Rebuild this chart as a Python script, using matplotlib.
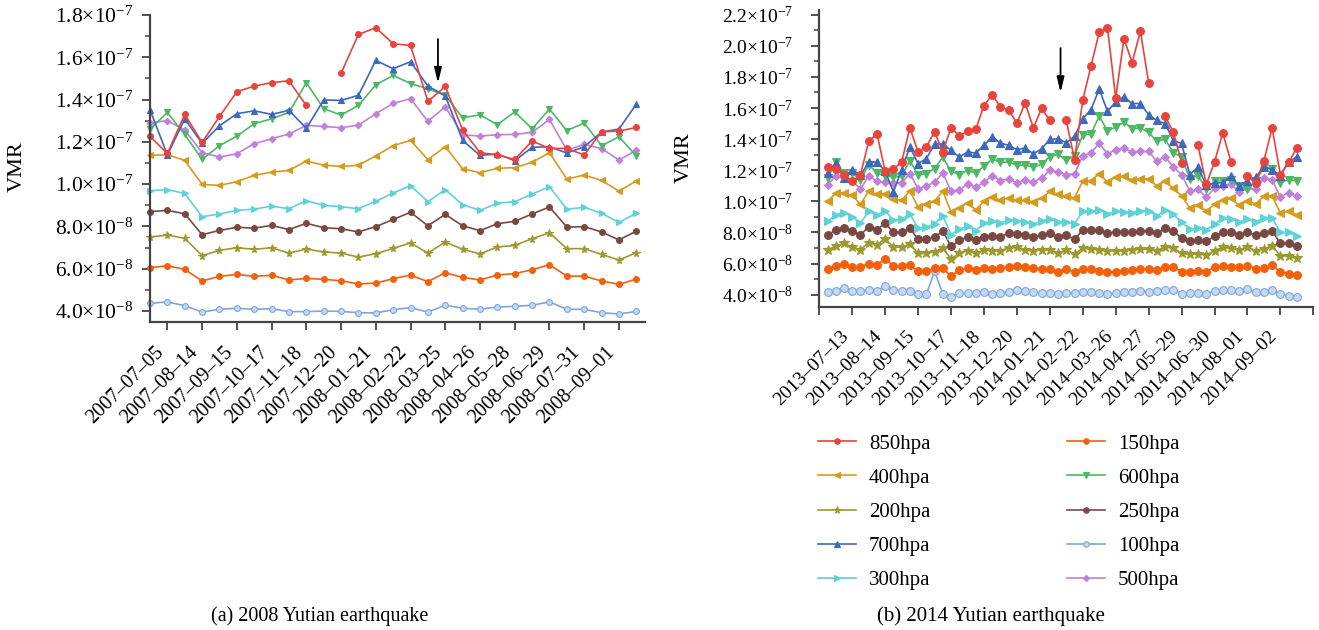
import numpy as np
import matplotlib.pyplot as plt
from matplotlib.ticker import FuncFormatter, MultipleLocator

plt.rcParams['font.family'] = ['Liberation Serif', 'DejaVu Serif']
plt.rcParams['mathtext.fontset'] = 'custom'
plt.rcParams['mathtext.rm'] = 'Liberation Serif'
plt.rcParams['mathtext.it'] = 'Liberation Serif:italic'

nan = np.nan

# ---- (a) 2008 Yutian earthquake, VMR in units of 1e-8 ----
dates_a = ['2007–07–05', '2007–08–14', '2007–09–15', '2007–10–17', '2007–11–18',
           '2007–12–20', '2008–01–21', '2008–02–22', '2008–03–25', '2008–04–26',
           '2008–05–28', '2008–06–29', '2008–07–31', '2008–09–01']

a_850 = [12.26, 11.45, 13.30, 11.97, 13.20, 14.37, 14.64, 14.80, 14.89, 13.72, nan, 15.24, 17.08, 17.40, 16.64,
         16.56, 13.91, 14.62, 12.56, 11.49, 11.38, 11.17, 12.04, 11.69, 11.69, 11.38, 12.48, 12.51, 12.68]
a_700 = [13.52, 11.38, 13.08, 11.93, 12.76, 13.33, 13.47, 13.30, 13.49, 12.64, 13.98, 13.96, 14.20, 15.85, 15.46,
         15.79, 14.64, 14.18, 12.07, 11.36, 11.43, 11.11, 11.74, 11.77, 11.47, 11.77, 12.46, 12.61, 13.78]
a_600 = [12.59, 13.39, 12.35, 11.17, 11.82, 12.27, 12.86, 13.09, 13.39, 14.80, 13.57, 13.27, 13.72, 14.70, 15.14,
         14.76, 14.51, 14.20, 13.14, 13.28, 12.81, 13.42, 12.62, 13.55, 12.53, 12.89, 11.82, 12.24, 11.34]
a_500 = [12.90, 13.00, 12.56, 11.49, 11.28, 11.44, 11.91, 12.15, 12.37, 12.78, 12.73, 12.67, 12.79, 13.33, 13.82,
         14.04, 12.97, 13.66, 12.34, 12.27, 12.34, 12.35, 12.45, 13.06, 11.61, 11.88, 11.68, 11.14, 11.60]
a_400 = [11.36, 11.39, 11.12, 9.99, 9.94, 10.12, 10.41, 10.57, 10.65, 11.09, 10.90, 10.84, 10.89, 11.34, 11.82,
         12.07, 11.16, 11.77, 10.73, 10.54, 10.75, 10.78, 11.03, 11.49, 10.24, 10.43, 10.18, 9.67, 10.15]
a_300 = [9.69, 9.74, 9.56, 8.46, 8.59, 8.76, 8.82, 8.96, 8.84, 9.22, 9.00, 8.93, 8.84, 9.19, 9.58,
         9.93, 9.17, 9.74, 9.03, 8.76, 9.10, 9.17, 9.53, 9.88, 8.82, 8.90, 8.62, 8.19, 8.63]
a_250 = [8.70, 8.76, 8.60, 7.61, 7.81, 7.96, 7.92, 8.05, 7.85, 8.15, 7.94, 7.89, 7.74, 7.99, 8.33,
         8.67, 8.03, 8.57, 8.03, 7.80, 8.13, 8.24, 8.59, 8.92, 7.97, 7.99, 7.74, 7.36, 7.78]
a_200 = [7.50, 7.59, 7.44, 6.62, 6.87, 6.99, 6.92, 6.99, 6.74, 6.93, 6.79, 6.74, 6.55, 6.71, 6.96,
         7.22, 6.74, 7.26, 6.92, 6.70, 7.03, 7.10, 7.42, 7.70, 6.95, 6.95, 6.68, 6.41, 6.76]
a_150 = [6.05, 6.14, 5.97, 5.42, 5.64, 5.73, 5.64, 5.69, 5.47, 5.54, 5.50, 5.43, 5.28, 5.32, 5.53,
         5.70, 5.39, 5.81, 5.59, 5.47, 5.70, 5.77, 5.95, 6.19, 5.65, 5.65, 5.42, 5.26, 5.51]
a_100 = [4.36, 4.43, 4.25, 3.95, 4.08, 4.13, 4.08, 4.11, 3.97, 3.97, 4.00, 3.98, 3.92, 3.91, 4.06,
         4.16, 3.95, 4.27, 4.13, 4.08, 4.19, 4.22, 4.27, 4.43, 4.08, 4.08, 3.92, 3.86, 3.98]

# ---- (b) 2014 Yutian earthquake ----
dates_b = ['2013–07–13', '2013–08–14', '2013–09–15', '2013–10–17', '2013–11–18',
           '2013–12–20', '2014–01–21', '2014–02–22', '2014–03–26', '2014–04–27',
           '2014–05–29', '2014–06–30', '2014–08–01', '2014–09–02']

b_850 = [12.21, 12.09, 11.70, 11.28, 11.72, 13.85, 14.35, 11.94, 12.09, 12.51,
         14.74, 13.17, 13.51, 14.47, 13.17, 14.74, 14.19, 14.52, 14.62, 16.16,
         16.85, 16.08, 15.86, 15.03, 16.33, 14.72, 15.98, 15.20, nan, 15.20,
         12.68, 16.52, 18.70, 20.88, 21.17, 16.64, 20.45, 18.92, 20.95, 17.61,
         nan, 15.48, 14.45, 12.49, nan, 13.60, 11.09, 12.53, 14.39, 12.55,
         nan, 11.60, 11.19, 12.60, 14.72, 11.72, 12.51, 13.43]
b_700 = [11.83, 12.47, 11.51, 12.04, 11.68, 12.51, 12.53, 11.94, 10.60, 12.04,
         13.49, 12.43, 12.74, 13.68, 13.68, 13.28, 12.85, 13.17, 13.11, 13.60,
         14.16, 13.74, 13.60, 13.32, 13.43, 13.06, 13.38, 13.98, 14.02, 13.77,
         14.19, 15.30, 15.90, 17.22, 15.79, 16.39, 16.70, 16.29, 16.29, 15.57,
         15.20, 14.99, 13.91, 13.72, 11.72, 12.19, 11.02, 11.19, 11.19, 11.62,
         10.98, 11.34, 11.55, 12.21, 12.04, 11.66, 12.53, 12.87]
b_600 = [11.51, 12.51, 11.83, 11.83, 11.36, 12.36, 11.83, 11.62, 11.57, 11.62,
         12.62, 11.68, 11.79, 12.11, 12.83, 11.94, 11.72, 11.98, 11.83, 12.26,
         12.72, 12.51, 12.53, 12.32, 12.32, 12.21, 12.38, 12.87, 13.02, 12.64,
         12.94, 14.27, 14.33, 15.48, 14.52, 14.78, 15.09, 14.68, 14.72, 14.43,
         13.85, 14.00, 13.11, 12.87, 11.45, 11.66, 10.81, 11.30, 11.34, 11.40,
         10.98, 10.81, 11.30, 12.19, 12.11, 11.19, 11.40, 11.30]
b_500 = [11.04, 11.66, 11.55, 11.34, 10.77, 11.66, 11.28, 11.23, 11.19, 11.19,
         11.79, 10.81, 10.98, 11.23, 11.83, 10.66, 10.72, 11.13, 10.91, 11.23,
         11.66, 11.34, 11.45, 11.19, 11.36, 11.26, 11.47, 12.00, 11.89, 11.72,
         11.77, 12.94, 13.11, 13.74, 13.04, 13.32, 13.43, 13.15, 13.21, 13.21,
         12.57, 12.87, 12.19, 11.72, 10.66, 10.77, 10.28, 10.83, 10.98, 11.09,
         10.62, 10.83, 10.77, 11.47, 11.40, 10.28, 10.55, 10.34]
b_400 = [10.02, 10.51, 10.55, 10.38, 9.80, 10.66, 10.45, 10.49, 10.13, 10.09,
         10.66, 9.64, 9.80, 10.02, 10.66, 9.30, 9.57, 9.91, 9.46, 10.02,
         10.30, 10.06, 10.23, 10.06, 10.06, 9.98, 10.19, 10.64, 10.45, 10.34,
         10.23, 11.30, 11.34, 11.77, 11.23, 11.55, 11.62, 11.36, 11.45, 11.45,
         10.98, 11.30, 10.83, 10.36, 9.57, 9.75, 9.39, 9.80, 10.06, 10.19,
         9.75, 10.02, 9.84, 10.32, 10.34, 9.24, 9.39, 9.12]
b_300 = [8.72, 9.12, 9.28, 9.01, 8.61, 9.35, 9.12, 9.39, 8.79, 8.85,
         9.19, 8.29, 8.34, 8.56, 9.08, 7.86, 8.22, 8.40, 8.11, 8.61,
         8.72, 8.61, 8.79, 8.74, 8.67, 8.56, 8.72, 8.88, 8.67, 8.67,
         8.56, 9.37, 9.37, 9.46, 9.19, 9.35, 9.30, 9.28, 9.39, 9.39,
         9.06, 9.42, 9.17, 8.65, 8.22, 8.27, 8.16, 8.54, 8.90, 8.85,
         8.67, 8.85, 8.67, 8.94, 8.94, 8.00, 8.00, 7.80]
b_250 = [7.84, 8.16, 8.31, 8.09, 7.84, 8.38, 8.18, 8.61, 8.00, 8.00,
         8.27, 7.56, 7.56, 7.70, 8.09, 7.10, 7.50, 7.70, 7.50, 7.74,
         7.80, 7.74, 7.94, 7.90, 7.84, 7.70, 7.82, 7.94, 7.70, 7.82,
         7.56, 8.16, 8.13, 8.13, 7.94, 8.04, 8.04, 8.00, 8.09, 8.11,
         7.94, 8.27, 8.09, 7.64, 7.48, 7.52, 7.44, 7.76, 8.00, 8.00,
         7.86, 8.00, 7.84, 7.94, 8.11, 7.30, 7.30, 7.10]
b_200 = [6.90, 7.10, 7.30, 7.04, 6.90, 7.34, 7.20, 7.60, 7.06, 7.06,
         7.24, 6.66, 6.66, 6.76, 7.00, 6.30, 6.66, 6.84, 6.66, 6.88,
         6.84, 6.84, 7.00, 7.04, 6.90, 6.84, 6.90, 6.90, 6.66, 6.90,
         6.60, 6.98, 6.96, 6.90, 6.80, 6.84, 6.84, 6.88, 6.94, 6.92,
         6.84, 7.08, 7.00, 6.66, 6.60, 6.64, 6.56, 6.84, 7.04, 6.98,
         6.90, 7.06, 6.84, 6.94, 7.14, 6.50, 6.48, 6.34]
b_150 = [5.67, 5.82, 6.00, 5.80, 5.78, 6.00, 5.93, 6.30, 5.87, 5.85,
         5.89, 5.52, 5.52, 5.71, 5.71, 5.19, 5.60, 5.69, 5.56, 5.74,
         5.67, 5.69, 5.80, 5.87, 5.80, 5.69, 5.67, 5.65, 5.45, 5.65,
         5.43, 5.67, 5.65, 5.52, 5.49, 5.49, 5.52, 5.56, 5.65, 5.65,
         5.60, 5.78, 5.78, 5.49, 5.49, 5.52, 5.49, 5.76, 5.87, 5.80,
         5.78, 5.87, 5.67, 5.71, 5.93, 5.45, 5.36, 5.27]
b_100 = [4.19, 4.26, 4.43, 4.24, 4.26, 4.32, 4.26, 4.56, 4.30, 4.26,
         4.24, 4.04, 4.02, 5.50, 4.06, 3.85, 4.09, 4.09, 4.09, 4.15,
         4.06, 4.13, 4.19, 4.28, 4.24, 4.17, 4.13, 4.09, 4.02, 4.13,
         4.09, 4.15, 4.15, 4.09, 4.06, 4.11, 4.15, 4.19, 4.22, 4.19,
         4.24, 4.32, 4.32, 4.06, 4.09, 4.11, 4.04, 4.24, 4.30, 4.28,
         4.26, 4.37, 4.15, 4.19, 4.32, 4.02, 3.94, 3.87]

# legend order (two columns, filled column-wise)
levels = ['850hpa', '400hpa', '200hpa', '700hpa', '300hpa',
          '150hpa', '600hpa', '250hpa', '100hpa', '500hpa']
series_a = dict(zip(levels, [a_850, a_400, a_200, a_700, a_300, a_150, a_600, a_250, a_100, a_500]))
series_b = dict(zip(levels, [b_850, b_400, b_200, b_700, b_300, b_150, b_600, b_250, b_100, b_500]))

styles = {
    '850hpa': ('#e8433c', 'o'),
    '150hpa': ('#f2600c', 'o'),
    '400hpa': ('#d49c1e', '<'),
    '600hpa': ('#4cb864', 'v'),
    '200hpa': ('#9c9a2e', '*'),
    '250hpa': ('#7a4843', 'o'),
    '700hpa': ('#3e68bd', '^'),
    '100hpa': ('#7ea6da', 'o'),
    '300hpa': ('#5ed2d6', '>'),
    '500hpa': ('#c080da', 'D'),
}
draw_order = ['100hpa', '150hpa', '200hpa', '250hpa', '300hpa',
              '400hpa', '500hpa', '600hpa', '700hpa', '850hpa']

AX_COL = '#444444'


def sci_fmt(v, pos):
    if v <= 0:
        return ''
    e = int(np.floor(np.log10(v) + 1e-9))
    m = round(v / 10 ** e, 1)
    if m >= 10:
        m /= 10
        e += 1
    return f'{m:.1f}×10$^{{{e}}}$'


def style_axes(ax, ysize, ypad, xsize, xpad):
    for s in ['top', 'right']:
        ax.spines[s].set_visible(False)
    for s in ['left', 'bottom']:
        ax.spines[s].set_color(AX_COL)
        ax.spines[s].set_linewidth(1.6)
    ax.yaxis.set_major_locator(MultipleLocator(2e-8))
    ax.yaxis.set_minor_locator(MultipleLocator(1e-8))
    ax.yaxis.set_major_formatter(FuncFormatter(sci_fmt))
    ax.tick_params(axis='both', which='major', direction='out', length=6, width=1.3, color=AX_COL)
    ax.tick_params(axis='y', which='minor', direction='out', length=3.5, width=1.1, color=AX_COL)
    ax.tick_params(axis='y', labelsize=ysize, pad=ypad)
    ax.tick_params(axis='x', labelsize=xsize, pad=xpad)


def draw(ax, series, ms, lw):
    handles = {}
    for name in draw_order:
        col, mk = styles[name]
        vals = np.array(series[name]) * 1e-8
        x = np.arange(len(vals))
        face = '#c6d8f0' if name == '100hpa' else col
        size = ms * 1.35 if mk == '*' else (ms * 0.8 if mk == 'D' else ms)
        ln, = ax.plot(x, vals, color=col, lw=lw, marker=mk, markersize=size,
                      markerfacecolor=face, markeredgecolor=col, markeredgewidth=0.8,
                      clip_on=False, label=name)
        handles[name] = ln
    return handles


fig = plt.figure(figsize=(13.19, 6.30), dpi=100)

# left panel
ax1 = fig.add_axes([150 / 1319, 1 - 322 / 630, 495 / 1319, 307 / 630])
draw(ax1, series_a, 4.2, 1.2)
style_axes(ax1, 15.5, 5.8, 14.5, 9)
ax1.set_xlim(0, 28.5)
ax1.set_ylim(3.48e-8, 1.8e-7)
ax1.set_xticks(np.arange(1, 28, 2))
ax1.set_xticklabels(dates_a, rotation=45, ha='right')
ax1.annotate('', xy=(16.58, 14.78e-8), xytext=(16.58, 16.86e-8),
             arrowprops=dict(arrowstyle='-|>,head_width=0.22,head_length=0.9',
                             color='black', lw=1.3, shrinkA=0, shrinkB=0))

# right panel
ax2 = fig.add_axes([819.3 / 1319, 1 - 307 / 630, 494 / 1319, 297 / 630])
h2 = draw(ax2, series_b, 5.6, 1.2)
style_axes(ax2, 14, 13, 14, 9)
ax2.set_xlim(-1, 59)
ax2.set_ylim(3.21e-8, 2.23e-7)
ax2.set_xticks(np.arange(-1, 60, 4))
ax2.set_xticklabels([''] + dates_b + [''], rotation=45, ha='right')
ax2.annotate('', xy=(28.3, 17.0e-8), xytext=(28.3, 19.85e-8),
             arrowprops=dict(arrowstyle='-|>,head_width=0.22,head_length=0.9',
                             color='black', lw=1.3, shrinkA=0, shrinkB=0))

fig.text(17 / 1319, 1 - 167 / 630, 'VMR', rotation=90, ha='center', va='center', fontsize=16)
fig.text(684 / 1319, 1 - 158 / 630, 'VMR', rotation=90, ha='center', va='center', fontsize=16)

fig.legend([h2[n] for n in levels], levels, loc='upper left',
           bbox_to_anchor=(818 / 1319, 1 - 434 / 630), ncol=2, frameon=False,
           fontsize=15, handlelength=1.8, handletextpad=0.65, columnspacing=6.55,
           labelspacing=0.7, borderpad=0, borderaxespad=0, markerscale=0.7)

fig.text(320 / 1319, 1 - 616 / 630, '(a) 2008 Yutian earthquake', ha='center', va='center', fontsize=14.5)
fig.text(991 / 1319, 1 - 616 / 630, '(b) 2014 Yutian earthquake', ha='center', va='center', fontsize=15)

fig.savefig('out.png', dpi=100)
